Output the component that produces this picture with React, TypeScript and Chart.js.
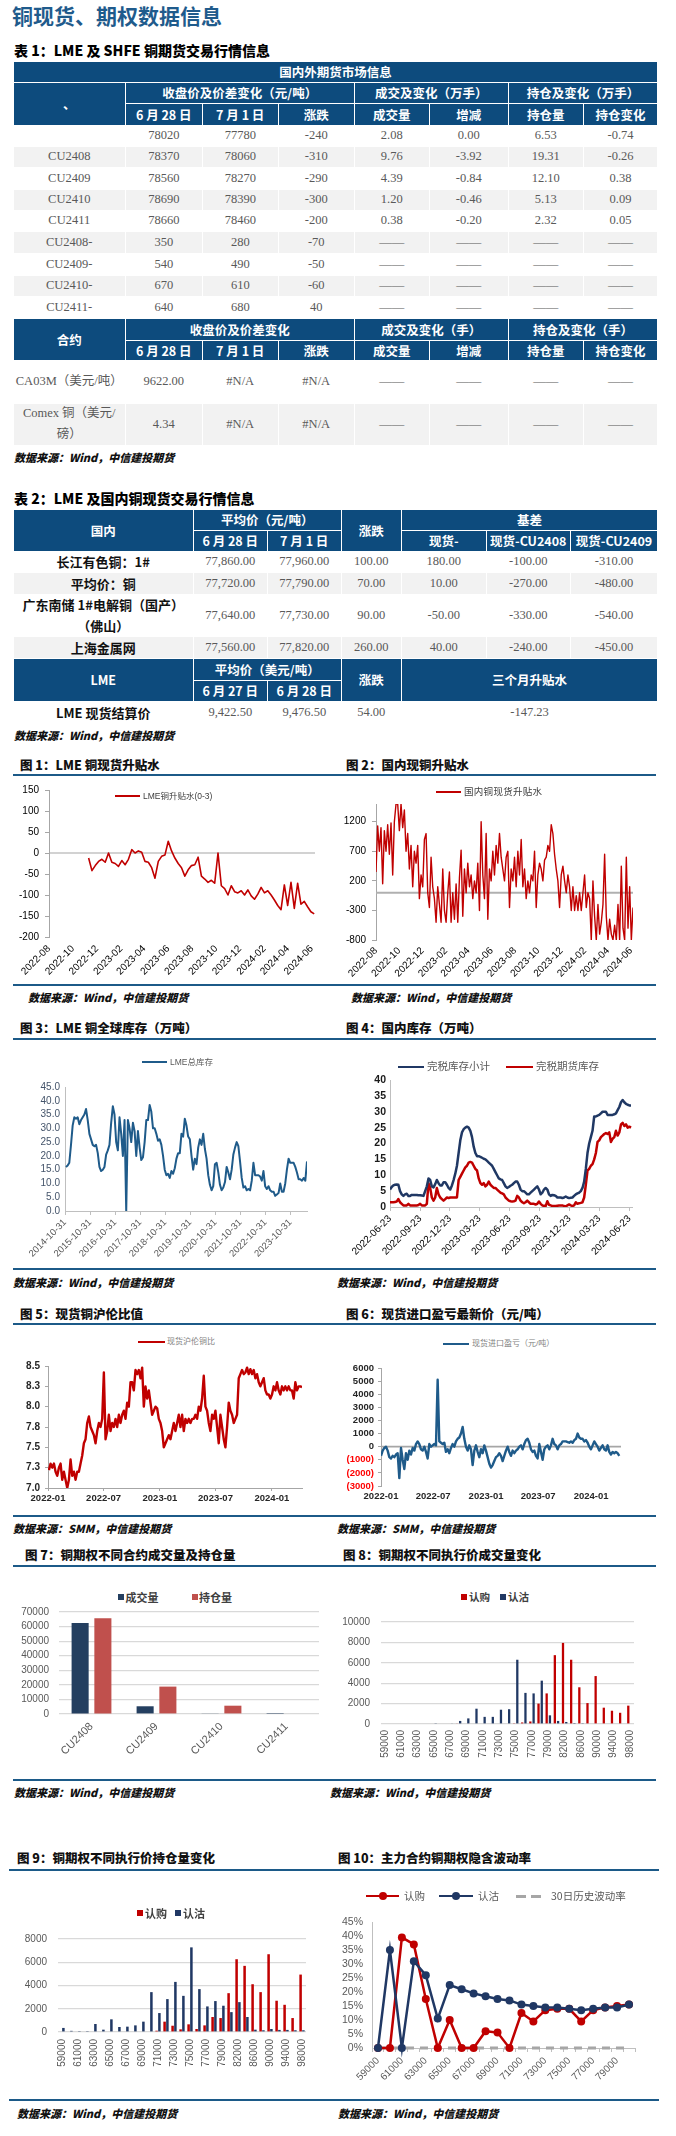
import React, { useEffect, useRef } from 'react';
import { Chart, registerables } from 'chart.js';

Chart.register(...registerables);

const RED = '#c00000';
const NAVY = '#203864';
const STEEL = '#1f5b8a';
const RULE = '#1c5a88';
const HEAD = '#0d4b7d';
const STRIPE = '#f2f2f2';
const CJK = "'Noto Sans CJK SC', 'Noto Sans', sans-serif";
const SERIF = "'Liberation Serif', 'Noto Sans CJK SC', serif";
const SANS = "'Liberation Sans', 'Noto Sans CJK SC', sans-serif";
Chart.defaults.font.family = SANS;

// ---------------- Table 1 ----------------
const T1_TOP = '国内外期货市场信息';
const T1_GROUP = ['收盘价及价差变化（元/吨）', '成交及变化（万手）', '持仓及变化（万手）'];
const T1_SUB = ['6 月 28 日', '7 月 1 日', '涨跌', '成交量', '增减', '持仓量', '持仓变化'];
const T1_ROWS = [
  ['', '78020', '77780', '-240', '2.08', '0.00', '6.53', '-0.74'],
  ['CU2408', '78370', '78060', '-310', '9.76', '-3.92', '19.31', '-0.26'],
  ['CU2409', '78560', '78270', '-290', '4.39', '-0.84', '12.10', '0.38'],
  ['CU2410', '78690', '78390', '-300', '1.20', '-0.46', '5.13', '0.09'],
  ['CU2411', '78660', '78460', '-200', '0.38', '-0.20', '2.32', '0.05'],
  ['CU2408-', '350', '280', '-70', '——', '——', '——', '——'],
  ['CU2409-', '540', '490', '-50', '——', '——', '——', '——'],
  ['CU2410-', '670', '610', '-60', '——', '——', '——', '——'],
  ['CU2411-', '640', '680', '40', '——', '——', '——', '——'],
];
const T1_GROUP2 = ['收盘价及价差变化', '成交及变化（手）', '持仓及变化（手）'];
const T1_ROWS2 = [
  ['CA03M（美元/吨）', '9622.00', '#N/A', '#N/A', '——', '——', '——', '——'],
  ['Comex 铜（美元/\n磅）', '4.34', '#N/A', '#N/A', '——', '——', '——', '——'],
];

// ---------------- Table 2 ----------------
const T2_HEAD = ['国内', '平均价（元/吨）', '涨跌', '基差'];
const T2_SUB = ['6 月 28 日', '7 月 1 日', '现货-', '现货-CU2408', '现货-CU2409'];
const T2_ROWS = [
  ['长江有色铜：1#', '77,860.00', '77,960.00', '100.00', '180.00', '-100.00', '-310.00'],
  ['平均价：铜', '77,720.00', '77,790.00', '70.00', '10.00', '-270.00', '-480.00'],
  ['广东南储 1#电解铜（国产）\n（佛山）', '77,640.00', '77,730.00', '90.00', '-50.00', '-330.00', '-540.00'],
  ['上海金属网', '77,560.00', '77,820.00', '260.00', '40.00', '-240.00', '-450.00'],
];
const T2_HEAD2 = ['LME', '平均价（美元/吨）', '涨跌', '三个月升贴水'];
const T2_SUB2 = ['6 月 27 日', '6 月 28 日'];
const T2_ROWS2 = [['LME 现货结算价', '9,422.50', '9,476.50', '54.00', '-147.23']];

const SRC_WIND = '数据来源：Wind，中信建投期货';
const SRC_SMM = '数据来源：SMM，中信建投期货';

// ---------------- Chart 1: LME 铜升贴水(0-3) ----------------
const C1_START = '2022-11-10';
const C1_END = '2024-06-07';
const C1_VALUES = [-12, -42, -30, -20, -15, -22, 0, -22, -25, -32, -18, -28, -15, 8, 0, 5, 2, -20, -22, -35, -60, -20, -8, -5, 28, 5, -12, -25, -35, -55, -40, -30, -28, -10, -55, -62, -70, -65, -72, 0, -78, -85, -100, -78, -92, -95, -90, -100, -88, -102, -110, -98, -82, -95, -90, -100, -112, -125, -135, -76, -125, -70, -132, -72, -122, -115, -128, -140, -145];
const C1_XTICKS = ['2022-08', '2022-10', '2022-12', '2023-02', '2023-04', '2023-06', '2023-08', '2023-10', '2023-12', '2024-02', '2024-04', '2024-06'];
const C1_YTICKS = [-200, -150, -100, -50, 0, 50, 100, 150];

// ---------------- Chart 2: 国内铜现货升贴水 ----------------
const C2_START = '2022-08-01';
const C2_END = '2024-06-06';
const C2_VALUES = [
  350, 1130, 700, 1100, 150, 1050, 700, 1150, 650, 1180,
  300, 1200, 1500, 1500, 1050, 1500, 1100, 1400, 700, 1000,
  400, 800, 100, 700, 500, 800, -100, 300, 100, 900,
  1000, 0, -250, 600, 100, -100, -500, 100, -200, -500,
  400, -300, -500, 0, 350, -500, 0, -450, 150, -500,
  250, 720, -400, 400, 0, 500, 100, 300, -100, 200,
  0, 500, -300, 1200, 300, -100, 1000, -450, 400, 200,
  700, 300, 800, 500, 1000, 600, 400, 200, 600, 700,
  -250, 400, 200, 600, 100, 700, 300, 900, 100, 400,
  -100, 200, 0, 300, 200, 700, -250, 300, 500, 400,
  200, 550, 600, 800, 700, 1150, 1000, 650, 400, 200,
  -250, 300, 450, 200, 0, 300, 100, -300, 100, -300,
  -50, -300, 0, -300, 0, 300, -250, 0, -100, -800,
  200, -400, -800, -200, -700, -500, -200, 650, -400, -800,
  -450, -700, -800, -550, -800, -200, -800, 450, -600, -800,
  600, -600, 100, -800, -250,
];
const C2_YTICKS = [-800, -300, 200, 700, 1200];

// ---------------- Chart 3: LME总库存 ----------------
const C3_START = '2014-11-14';
const C3_END = '2024-06-28';
const C3_VALUES = [
  16, 16.5, 17.5, 24, 31, 34, 33.5, 34, 31.5, 33,
  34, 35, 37, 33, 28, 26, 24, 23.5, 24, 21,
  16, 14.5, 15, 16, 20.5, 22, 24, 32, 38, 35,
  25, 22, 34, 28, 20, 33, 0, 33, 30, 25,
  32, 29, 20, 29, 23, 18.5, 19.5, 25, 33, 33,
  38.5, 36, 30, 30, 28, 25.5, 26, 24, 20, 15,
  13, 13.5, 12, 14.5, 13.5, 15.5, 19, 21, 21, 28,
  27, 33.5, 31, 27, 26, 20, 15, 19, 17, 23,
  26, 24, 28, 22.5, 19, 13, 9.5, 7.5, 9, 17,
  17.5, 14, 9.5, 7.5, 8.5, 10.5, 16, 14, 11.5, 15,
  20.5, 23, 25, 23.5, 18, 12, 8.5, 9, 7.5, 8,
  7.5, 11, 17.5, 13, 13, 13, 12.5, 11, 14.5, 9,
  8, 9, 7.5, 7, 7, 5.5, 6, 6.5, 10, 7,
  7, 10, 15, 19, 17.5, 17.5, 17.5, 16, 14, 11.5,
  11.5, 11, 12, 11, 18,
];
const C3_XTICKS = ['2014-10-31', '2015-10-31', '2016-10-31', '2017-10-31', '2018-10-31', '2019-10-31', '2020-10-31', '2021-10-31', '2022-10-31', '2023-10-31'];
const C3_YTICKS = [0, 5, 10, 15, 20, 25, 30, 35, 40, 45];

// ---------------- Chart 4: 国内库存 ----------------
const C4_START = '2022-06-23';
const C4_END = '2024-06-28';
const C4_TOTAL = [
  5.5, 6.3, 6.8, 7, 7.1, 7, 5, 4, 3.5, 4,
  4.2, 3.5, 3.5, 3.8, 3.8, 3.8, 3.8, 3.7, 3.7, 3.6,
  3.5, 5, 6.5, 9, 8.5, 6.5, 6.2, 7.2, 8.5, 7.5,
  6.8, 6.8, 7.8, 7.8, 7, 6, 5.5, 6.8, 8.5, 10.5,
  13, 17, 21, 23.5, 24.5, 25, 25.3, 25, 24, 22,
  19, 17, 16, 16, 15.8, 15.5, 15.2, 15, 14.5, 14,
  13.5, 13, 12, 11, 10, 9, 8.7, 8.5, 7.5, 6.5,
  6, 6.3, 6.7, 7, 7.5, 8, 8, 7, 5.5, 5,
  5, 4.5, 4, 4, 4.5, 5, 5.5, 6, 6.5, 5.5,
  4, 4.5, 5.5, 6, 5.5, 4, 3.5, 3.8, 3.7, 3.5,
  3, 3, 3, 2.8, 3, 3.3, 3, 2.8, 2.9, 3,
  3.5, 4, 4.3, 4.5, 5, 6, 8, 12, 17, 20,
  22, 24, 28.5, 28.5, 28.8, 29, 29.5, 30, 30, 30,
  29, 29, 29, 29, 29.2, 29.5, 30.5, 31.5, 33, 33.7,
  33, 32.5, 32.2, 32, 32,
];
const C4_FUTURES = [
  1.5, 1.5, 1.5, 1.6, 1.7, 2.5, 1.5, 1, 0.5, 0.5,
  0.5, 1, 0.5, 0.5, 0.5, 0.5, 0.5, 0.6, 1, 0.5,
  0.5, 0.5, 1, 7.5, 6, 3, 2, 3, 6, 4,
  3, 2.5, 2, 2.5, 3, 2.8, 3, 3, 3, 3,
  3, 8.5, 9.5, 10.5, 11.5, 12.5, 13, 14, 14.2, 14,
  13, 12, 11.5, 9, 7.5, 7, 7.5, 6.5, 7, 8,
  7, 6.5, 6, 6, 5.5, 5, 4.5, 4.3, 4, 3,
  2.5, 2, 1.8, 1.7, 1.8, 2, 3.5, 3, 2, 1.5,
  1.2, 1.5, 2, 1.5, 1, 1, 1, 0.8, 1, 1.7,
  1, 0.5, 0.4, 0.3, 1.8, 0.7, 0.5, 0.3, 0.3, 0.3,
  0.4, 0.5, 0.5, 0.5, 0.3, 0.2, 0.5, 0.8, 0.5, 0.3,
  0.5, 1.5, 1, 1.2, 1.3, 1.5, 3, 7, 11.5, 12,
  13, 13.5, 15, 17, 20.5, 21, 22, 22.5, 23, 23.3,
  23, 23.5, 20.5, 21.5, 22, 24, 22.5, 23.5, 26, 26.5,
  25.5, 26, 25, 25.3, 25,
];
const C4_XTICKS = ['2022-06-23', '2022-09-23', '2022-12-23', '2023-03-23', '2023-06-23', '2023-09-23', '2023-12-23', '2024-03-23', '2024-06-23'];
const C4_YTICKS = [0, 5, 10, 15, 20, 25, 30, 35, 40];

// ---------------- Chart 5: 现货沪伦铜比 ----------------
const C5_START = '2022-01-04';
const C5_END = '2024-04-08';
const C5_VALUES = [
  7.22, 7.3, 7.25, 7.3, 7.2, 7.15, 7.25, 7.3, 7.1, 7.2,
  7.1, 7.0, 7.1, 7.35, 7.15, 7.2, 7.1, 7.2, 7.2, 7.3,
  7.4, 7.55, 7.6, 7.8, 7.88, 7.75, 7.7, 7.65, 7.55, 7.7,
  7.8, 7.75, 7.85, 8.42, 7.6, 7.7, 7.9, 7.7, 7.8, 7.75,
  7.85, 7.75, 7.9, 7.8, 7.9, 7.95, 7.85, 8.05, 8.0, 8.3,
  8.3, 8.2, 8.45, 8.4, 8.45, 8.35, 8.48, 8.0, 8.25, 8.1,
  8.2, 8.05, 7.9, 7.95, 8.0, 7.98, 7.85, 7.8, 7.7, 7.5,
  7.55, 7.6, 7.65, 7.6, 7.7, 7.8, 7.7, 7.8, 7.9, 7.75,
  7.9, 7.7, 7.85, 7.8, 7.85, 7.8, 7.85, 7.85, 7.9, 7.85,
  8.0, 7.95, 8.1, 8.38, 8.0, 7.95, 7.8, 7.7, 7.9, 7.85,
  7.95, 7.75, 7.55, 7.9, 7.75, 7.6, 7.5, 7.75, 8.05, 7.95,
  7.9, 7.8, 7.85, 7.9, 8.35, 8.4, 8.45, 8.4, 8.42, 8.48,
  8.4, 8.46, 8.4, 8.45, 8.35, 8.4, 8.3, 8.25, 8.3, 8.35,
  8.2, 8.15, 8.15, 8.1, 8.15, 8.25, 8.2, 8.3, 8.2, 8.15,
  8.25, 8.2, 8.25, 8.2, 8.25, 8.2, 8.2, 8.1, 8.3, 8.2,
  8.25, 8.25, 8.24,
];
const C5_XTICKS = ['2022-01', '2022-07', '2023-01', '2023-07', '2024-01'];
const C5_YTICKS = [7, 7.25, 7.5, 7.75, 8, 8.25, 8.5];

// ---------------- Chart 6: 现货进口盈亏 ----------------
const C6_START = '2022-01-01';
const C6_END = '2024-04-08';
const C6_VALUES = [
  -700, -300, -100, 0, -300, -800, -900, -700, -800, -600,
  -500, -2400, -100, -1000, -1700, -500, -1000, -300, -600, -100,
  -300, 200, 400, 200, -200, -300, 0, -400, -900, 200,
  0, 100, 200, 100, 5100, 400, 300, 200, 300, -400,
  -200, -500, -100, 200, 0, 400, 600, 700, 1000, 1500,
  600, 0, -300, 100, -200, -1400, -300, 100, -400, -800,
  -200, -500, 100, -300, -800, -1300, -1600, -1400, -1100, -800,
  -700, -500, -700, -1100, -700, -300, 0, -400, -700, -300,
  -500, -300, -200, 0, 100, -200, 200, 500, 600, 300,
  -200, -400, -300, -700, -900, 200, -400, -1000, -200, 0,
  100, -200, 100, 600, 200, 100, -200, 100, 200, 400,
  400, 400, 350, 300, 400, 300, 500, 600, 1000, 700,
  600, 600, 400, 500, 300, 0, -200, 100, 400, 200,
  0, -300, -100, 100, -200, -300, 100, -400, -600, -400,
  -500, -400, -500, -700,
];
const C6_XTICKS = ['2022-01', '2022-07', '2023-01', '2023-07', '2024-01'];
const C6_YTICKS = [-3000, -2000, -1000, 0, 1000, 2000, 3000, 4000, 5000, 6000];

// ---------------- Chart 7: 不同合约成交量及持仓量 ----------------
const C7_CONTRACTS = ['CU2408', 'CU2409', 'CU2410', 'CU2411'];
const C7_VOLUME = [62500, 5300, 500, 100];
const C7_OPEN_INT = [65700, 18800, 5700, 400];
const C7_YTICKS = [0, 10000, 20000, 30000, 40000, 50000, 60000, 70000];

// ---------------- Chart 8 / 9: strikes ----------------
const STRIKES = [59000, 60000, 61000, 62000, 63000, 64000, 65000, 66000, 67000, 68000, 69000, 70000, 71000, 72000, 73000, 74000, 75000, 76000, 77000, 78000, 79000, 80000, 82000, 84000, 86000, 88000, 90000, 92000, 94000, 96000, 98000];
const C8_CALL = [0, 0, 0, 0, 0, 0, 0, 0, 0, 50, 0, 0, 0, 0, 0, 0, 80, 150, 250, 2000, 3000, 6750, 7950, 6300, 3600, 2050, 4700, 1600, 1300, 1100, 1800];
const C8_PUT = [0, 0, 0, 0, 0, 0, 80, 0, 50, 300, 550, 1500, 700, 700, 1400, 1450, 6300, 3050, 3000, 4250, 850, 300, 200, 100, 30, 0, 0, 0, 0, 0, 0];
const C8_YTICKS = [0, 2000, 4000, 6000, 8000, 10000];
const C9_CALL = [0, 0, 0, 0, 0, 0, 0, 0, 0, 0, 0, 0, 110, 890, 540, 230, 660, 260, 570, 1290, 1200, 3340, 6260, 5690, 4110, 3430, 6690, 2690, 2340, 1200, 4940];
const C9_PUT = [350, 100, 80, 80, 690, 200, 1090, 430, 460, 570, 890, 3430, 1630, 2830, 4310, 3110, 7280, 3690, 2200, 2660, 2260, 1710, 2570, 1290, 200, 150, 260, 180, 180, 150, 150];
const C9_YTICKS = [0, 2000, 4000, 6000, 8000];

// ---------------- Chart 10: 隐含波动率 ----------------
const C10_STRIKES = [59000, 60000, 61000, 62000, 63000, 64000, 65000, 66000, 67000, 68000, 69000, 70000, 71000, 72000, 73000, 74000, 75000, 76000, 77000, 78000, 79000, 80000];
const C10_CALL = [0, 0, 39.5, 37, 17.5, 0, 10, 0, 0, 6, 5.5, 0, 12.5, 9.5, 13.5, 14, 14, 9.5, 13.5, 14.5, 15, 15.5];
const C10_PUT = [0, 35, 0, 31, 26, 10.5, 22.5, 21, 19.5, 18.5, 17.5, 17, 15.5, 15, 14.5, 14.5, 14, 13.5, 14, 14.5, 14.5, 15.5];
const C10_HV = [0, 0, 0, 0, 0, 0, 0, 0, 0, 0, 0, 0, 0, 0, 0, 0, 0, 0, 0, 0, 0, 0];
const C10_YTICKS = [0, 5, 10, 15, 20, 25, 30, 35, 40, 45];

// ================= helpers =================
const day = (s: string): number => {
  const [y, m, d] = s.split('-').map(Number);
  return Date.UTC(y, m - 1, d || 1) / 86400000;
};
const spread = (start: string, end: string, vals: number[]) => {
  const a = day(start), b = day(end), n = vals.length - 1;
  return vals.map((v, i) => ({ x: a + ((b - a) * i) / n, y: v }));
};

const refLinePlugin = {
  id: 'refLine',
  beforeDatasetsDraw(chart: any, _args: any, opts: any) {
    if (!opts || opts.value === undefined || opts.value === null) return;
    const y = chart.scales.y.getPixelForValue(opts.value);
    const { left, right } = chart.chartArea;
    const ctx = chart.ctx;
    ctx.save();
    ctx.strokeStyle = opts.color;
    ctx.lineWidth = opts.width;
    ctx.beginPath();
    ctx.moveTo(left, y);
    ctx.lineTo(right, y);
    ctx.stroke();
    ctx.restore();
  },
};
Chart.register(refLinePlugin as any);

type Box = { x: number; y: number; w: number; h: number };
type Plot = { l: number; t: number; r: number; b: number };

function frameOpts(c: Box, p: Plot) {
  return {
    responsive: false,
    maintainAspectRatio: false,
    animation: false,
    events: [],
    layout: { autoPadding: false, padding: { left: 0, bottom: 0, top: p.t - c.y, right: c.x + c.w - p.r } },
  };
}
const yFit = (c: Box, p: Plot) => (s: any) => { s.width = p.l - c.x; s.paddingTop = 0; s.paddingBottom = 0; };
const xFit = (c: Box, p: Plot) => (s: any) => { s.height = c.y + c.h - p.b; s.paddingLeft = 0; s.paddingRight = 0; };

type Ax = { min: number; max: number; ticks: number[]; labels: string[]; rot?: number; font: any; color: any; pad: number; tick: number; line: string | null };

function linAxis(A: Ax, fit: any) {
  return {
    type: 'linear',
    min: A.min,
    max: A.max,
    afterBuildTicks: (s: any) => { s.ticks = A.ticks.map((v) => ({ value: v })); },
    afterFit: fit,
    ticks: { autoSkip: false, maxRotation: A.rot || 0, minRotation: A.rot || 0, padding: A.pad, color: A.color, font: A.font, callback: (_v: any, i: number) => A.labels[i] },
    grid: { display: A.tick > 0, drawOnChartArea: false, drawTicks: A.tick > 0, tickLength: A.tick, color: A.line || '#a6a6a6', tickColor: A.line || '#a6a6a6' },
    border: { display: !!A.line, color: A.line || '#a6a6a6', width: 1 },
  };
}

function timeConfig(c: Box, p: Plot, datasets: any[], X: Ax, Y: Ax, ref?: any) {
  return {
    type: 'line',
    data: { datasets },
    options: {
      ...frameOpts(c, p),
      plugins: { legend: { display: false }, tooltip: { enabled: false }, refLine: ref || {} },
      scales: { x: linAxis(X, xFit(c, p)), y: linAxis(Y, yFit(c, p)) },
    },
  };
}

const lineDs = (data: any[], color: string, width: number) => ({
  data, borderColor: color, backgroundColor: color, borderWidth: width, pointRadius: 0, tension: 0, fill: false, borderJoinStyle: 'round',
});

function barConfig(c: Box, p: Plot, labels: string[], datasets: any[], yTicks: number[], o: { yFont: any; yPad: number; xRot: number; xEvery: number; xFont: any; xPad: number }) {
  return {
    type: 'bar',
    data: { labels, datasets },
    options: {
      ...frameOpts(c, p),
      plugins: { legend: { display: false }, tooltip: { enabled: false } },
      scales: {
        x: {
          type: 'category',
          afterFit: xFit(c, p),
          grid: { display: false, drawTicks: false },
          border: { display: false },
          ticks: { autoSkip: false, maxRotation: o.xRot, minRotation: o.xRot, padding: o.xPad, color: '#595959', font: o.xFont, callback: (_v: any, i: number) => (i % o.xEvery === 0 ? labels[i] : '') },
        },
        y: {
          type: 'linear',
          min: yTicks[0],
          max: yTicks[yTicks.length - 1],
          afterBuildTicks: (s: any) => { s.ticks = yTicks.map((v) => ({ value: v })); },
          afterFit: yFit(c, p),
          grid: { color: '#d9d9d9', lineWidth: 1.2, drawTicks: false },
          border: { display: false },
          ticks: { autoSkip: false, padding: o.yPad, color: '#595959', font: o.yFont, callback: (v: any) => String(v) },
        },
      },
    },
  };
}

// ================= chart configs =================
const F = (size: number, weight: any = 'normal') => ({ family: SANS, size, weight });

const B1: Box = { x: 13, y: 780, w: 325, h: 200 };
const P1: Plot = { l: 49, t: 790, r: 315, b: 937 };
const cfg1 = () => timeConfig(B1, P1, [lineDs(spread(C1_START, C1_END, C1_VALUES), RED, 1.6)],
  { min: day('2022-08-01'), max: day('2024-06-09'), ticks: C1_XTICKS.map((t) => day(t + '-01')), labels: C1_XTICKS, rot: 45, font: F(10), color: '#000', pad: 6, tick: 0, line: null },
  { min: -200, max: 150, ticks: C1_YTICKS, labels: C1_YTICKS.map(String), font: F(10), color: '#000', pad: 6, tick: 4, line: '#a6a6a6' },
  { value: 0, color: '#a6a6a6', width: 1.2 });

const B2: Box = { x: 338, y: 780, w: 318, h: 200 };
const P2: Plot = { l: 376, t: 804, r: 633, b: 940 };
const cfg2 = () => timeConfig(B2, P2, [lineDs(spread(C2_START, C2_END, C2_VALUES), RED, 1.4)],
  { min: day('2022-08-01'), max: day('2024-06-06'), ticks: C1_XTICKS.map((t) => day(t + '-01')), labels: C1_XTICKS, rot: 45, font: F(10), color: '#000', pad: 5, tick: 0, line: null },
  { min: -800, max: 1500, ticks: C2_YTICKS, labels: C2_YTICKS.map(String), font: F(10), color: '#000', pad: 6, tick: 4, line: '#a6a6a6' },
  { value: 0, color: '#b0b0b0', width: 2 });

const B3: Box = { x: 13, y: 1072, w: 325, h: 190 };
const P3: Plot = { l: 65, t: 1087, r: 307, b: 1211 };
const cfg3 = () => timeConfig(B3, P3, [lineDs(spread(C3_START, C3_END, C3_VALUES), STEEL, 2)],
  { min: day('2014-10-31'), max: day('2024-06-28'), ticks: C3_XTICKS.map(day), labels: C3_XTICKS, rot: 45, font: F(9.5), color: '#595959', pad: 2, tick: 4, line: '#bfbfbf' },
  { min: 0, max: 45, ticks: C3_YTICKS, labels: C3_YTICKS.map((v) => v.toFixed(1)), font: F(10), color: '#44546a', pad: 5, tick: 0, line: '#bfbfbf' });

const B4: Box = { x: 338, y: 1072, w: 318, h: 190 };
const P4: Plot = { l: 390, t: 1080, r: 632, b: 1207 };
const cfg4 = () => timeConfig(B4, P4, [
  lineDs(spread(C4_START, C4_END, C4_TOTAL), NAVY, 2.5),
  lineDs(spread(C4_START, C4_END, C4_FUTURES), RED, 2.5),
],
  { min: day('2022-06-23'), max: day('2024-07-01'), ticks: C4_XTICKS.map(day), labels: C4_XTICKS, rot: 45, font: F(10), color: '#000', pad: 2, tick: 4, line: '#bfbfbf' },
  { min: 0, max: 40, ticks: C4_YTICKS, labels: C4_YTICKS.map(String), font: F(10.5, 'bold'), color: '#1a1a1a', pad: 4, tick: 0, line: '#bfbfbf' });

const B5: Box = { x: 13, y: 1352, w: 325, h: 160 };
const P5: Plot = { l: 48, t: 1366, r: 302, b: 1488 };
const cfg5 = () => timeConfig(B5, P5, [lineDs(spread(C5_START, C5_END, C5_VALUES), RED, 2.4)],
  { min: day('2022-01-01'), max: day('2024-04-08'), ticks: C5_XTICKS.map((t) => day(t + '-01')), labels: C5_XTICKS, rot: 0, font: F(9.5, 'bold'), color: '#262626', pad: 2, tick: 3, line: '#a6a6a6' },
  { min: 7, max: 8.5, ticks: C5_YTICKS, labels: C5_YTICKS.map((v) => v.toFixed(1)), font: F(10, 'bold'), color: '#262626', pad: 5, tick: 3, line: '#a6a6a6' });

const B6: Box = { x: 338, y: 1352, w: 318, h: 160 };
const P6: Plot = { l: 381, t: 1368, r: 621, b: 1486 };
const cfg6 = () => {
  const cfg: any = timeConfig(B6, P6, [lineDs(spread(C6_START, C6_END, C6_VALUES), STEEL, 2.4)],
    { min: day('2022-01-01'), max: day('2024-04-14'), ticks: C6_XTICKS.map((t) => day(t + '-01')), labels: C6_XTICKS, rot: 0, font: F(9.5, 'bold'), color: '#262626', pad: 5, tick: 0, line: null },
    { min: -3000, max: 6000, ticks: C6_YTICKS, labels: C6_YTICKS.map((v) => (v < 0 ? `(${Math.abs(v)})` : String(v))), font: F(9.5, 'bold'), color: '#262626', pad: 4, tick: 3, line: '#a6a6a6' },
    { value: 0, color: '#a6a6a6', width: 1.8 });
  cfg.options.scales.y.ticks.color = (ctx: any) => (ctx.tick && ctx.tick.value < 0 ? '#ff0000' : '#262626');
  return cfg;
};

const B7: Box = { x: 13, y: 1605, w: 323, h: 173 };
const P7: Plot = { l: 59, t: 1612, r: 319, b: 1714 };
const cfg7 = () => barConfig(B7, P7, C7_CONTRACTS, [
  { data: C7_VOLUME, backgroundColor: '#243f60', categoryPercentage: 0.7, barPercentage: 0.75 },
  { data: C7_OPEN_INT, backgroundColor: '#c0504d', categoryPercentage: 0.7, barPercentage: 0.75 },
], C7_YTICKS, { yFont: F(10), yPad: 10, xRot: 45, xEvery: 1, xFont: F(11), xPad: 6 });

const B8: Box = { x: 338, y: 1605, w: 318, h: 173 };
const P8: Plot = { l: 381, t: 1622, r: 634, b: 1724 };
const cfg8 = () => barConfig(B8, P8, STRIKES.map(String), [
  { data: C8_CALL, backgroundColor: RED, categoryPercentage: 0.8, barPercentage: 0.7 },
  { data: C8_PUT, backgroundColor: NAVY, categoryPercentage: 0.8, barPercentage: 0.7 },
], C8_YTICKS, { yFont: F(10), yPad: 11, xRot: 90, xEvery: 2, xFont: F(10), xPad: 6 });

const B9: Box = { x: 10, y: 1925, w: 326, h: 172 };
const P9: Plot = { l: 58, t: 1939, r: 306, b: 2032 };
const cfg9 = () => barConfig(B9, P9, STRIKES.map(String), [
  { data: C9_CALL, backgroundColor: RED, categoryPercentage: 0.7, barPercentage: 0.9 },
  { data: C9_PUT, backgroundColor: NAVY, categoryPercentage: 0.7, barPercentage: 0.9 },
], C9_YTICKS, { yFont: F(10), yPad: 11, xRot: 90, xEvery: 2, xFont: F(10), xPad: 7 });

const B10: Box = { x: 338, y: 1912, w: 321, h: 185 };
const P10: Plot = { l: 372, t: 1922, r: 635, b: 2048 };
const cfg10 = () => {
  const labels = C10_STRIKES.map(String);
  const mk = (data: number[], color: string, order: number) => ({
    data, borderColor: color, backgroundColor: color, borderWidth: 2.5, pointRadius: 4, pointBorderWidth: 0,
    pointBackgroundColor: color, tension: 0, fill: false, order, clip: false,
  });
  return {
    type: 'line',
    data: {
      labels,
      datasets: [
        mk(C10_CALL, RED, 1),
        mk(C10_PUT, NAVY, 0),
        { data: C10_HV, borderColor: '#a6a6a6', borderWidth: 3, borderDash: [8, 6], pointRadius: 0, fill: false, order: 2, clip: false },
      ],
    },
    options: {
      ...frameOpts(B10, P10),
      plugins: { legend: { display: false }, tooltip: { enabled: false } },
      scales: {
        x: {
          type: 'category', offset: true, afterFit: xFit(B10, P10),
          grid: { display: true, drawOnChartArea: false, offset: true, drawTicks: true, tickLength: 4, color: '#bfbfbf', tickColor: '#bfbfbf' },
          border: { display: true, color: '#bfbfbf', width: 1 },
          ticks: { autoSkip: false, maxRotation: 45, minRotation: 45, padding: 3, color: '#595959', font: F(10), callback: (_v: any, i: number) => (i % 2 === 0 ? labels[i] : '') },
        },
        y: {
          type: 'linear', min: 0, max: 45, afterFit: yFit(B10, P10),
          afterBuildTicks: (s: any) => { s.ticks = C10_YTICKS.map((v) => ({ value: v })); },
          grid: { display: false, drawTicks: false },
          border: { display: true, color: '#bfbfbf', width: 1 },
          ticks: { autoSkip: false, padding: 9, color: '#595959', font: F(10.5), callback: (v: any) => `${v}%` },
        },
      },
    },
  };
};

// ================= React components =================
function ChartBox({ box, build }: { box: Box; build: () => any }) {
  const ref = useRef<HTMLCanvasElement | null>(null);
  useEffect(() => {
    if (!ref.current) return;
    const ch = new Chart(ref.current, build());
    return () => ch.destroy();
  }, []);
  return <canvas ref={ref} width={box.w} height={box.h} style={{ position: 'absolute', left: box.x, top: box.y, width: box.w, height: box.h }} />;
}

function Txt({ x, y, s, style = {}, children }: any) {
  return (
    <div style={{ position: 'absolute', left: x, top: y - s * 0.75, height: s * 1.5, lineHeight: `${s * 1.5}px`, fontSize: s, whiteSpace: 'nowrap', ...style }}>
      {children}
    </div>
  );
}

const Title = ({ x, y, children }: any) => (
  <Txt x={x} y={y} s={12.5} style={{ fontWeight: 900, color: '#111' }}>{children}</Txt>
);
const Source = ({ x, y, text }: any) => (
  <Txt x={x} y={y} s={11} style={{ fontWeight: 900, fontStyle: 'italic', color: '#111' }}>{text}</Txt>
);
const Rule = ({ x0, x1, y }: any) => (
  <div style={{ position: 'absolute', left: x0, top: y - 1, width: x1 - x0, height: 2.2, background: RULE }} />
);
const LegLine = ({ x0, x1, y, color, h = 2 }: any) => (
  <div style={{ position: 'absolute', left: x0, top: y - h / 2, width: x1 - x0, height: h, background: color }} />
);
const LegSq = ({ x, y, color, s = 6 }: any) => (
  <div style={{ position: 'absolute', left: x, top: y - s / 2, width: s, height: s, background: color }} />
);
const LegDot = ({ x, y, color }: any) => (
  <div style={{ position: 'absolute', left: x - 4, top: y - 4, width: 8, height: 8, borderRadius: 4, background: color }} />
);

type CellDef = { r: number; c: number; rs?: number; cs?: number; t: string; k: 'h' | 'd' | 'b' };

function Grid({ xs, ys, cells, rowBg }: { xs: number[]; ys: number[]; cells: CellDef[]; rowBg: Record<number, string> }) {
  const lastX = xs[xs.length - 1];
  return (
    <>
      {cells.map((cell, i) => {
        const x0 = xs[cell.c];
        const x1 = xs[cell.c + (cell.cs || 1)];
        const y0 = ys[cell.r];
        const y1 = ys[cell.r + (cell.rs || 1)];
        const head = cell.k === 'h';
        const bg = head ? HEAD : rowBg[cell.r] || '#fff';
        const style: any =
          cell.k === 'h'
            ? { color: '#fff', fontWeight: 700, fontSize: 12.5, fontFamily: CJK }
            : cell.k === 'b'
            ? { color: '#111', fontWeight: 700, fontSize: 13, fontFamily: CJK }
            : { color: '#595959', fontSize: 12.5, fontFamily: SERIF };
        return (
          <div
            key={i}
            style={{
              position: 'absolute', left: x0, top: y0,
              width: x1 - x0 - (x1 < lastX ? 1.5 : 0), height: y1 - y0 - 1.5,
              background: bg, display: 'flex', alignItems: 'center', justifyContent: 'center',
              textAlign: 'center', whiteSpace: 'pre-line', lineHeight: '21px', ...style,
            }}
          >
            {cell.t}
          </div>
        );
      })}
    </>
  );
}

function Table1() {
  const xs = [14, 126, 203, 279, 355, 430, 509, 584, 657];
  const ys = [62, 83, 104, 126, 147, 168, 190, 211, 232, 254, 276, 297, 319, 341, 361, 404, 446];
  const cells: CellDef[] = [
    { r: 0, c: 0, cs: 8, t: T1_TOP, k: 'h' },
    { r: 1, c: 0, rs: 2, t: '、', k: 'h' },
    { r: 1, c: 1, cs: 3, t: T1_GROUP[0], k: 'h' },
    { r: 1, c: 4, cs: 2, t: T1_GROUP[1], k: 'h' },
    { r: 1, c: 6, cs: 2, t: T1_GROUP[2], k: 'h' },
    ...T1_SUB.map((t, j) => ({ r: 2, c: j + 1, t, k: 'h' as const })),
    ...T1_ROWS.flatMap((row, i) => row.map((t, j) => ({ r: 3 + i, c: j, t, k: 'd' as const }))),
    { r: 12, c: 0, rs: 2, t: '合约', k: 'h' },
    { r: 12, c: 1, cs: 3, t: T1_GROUP2[0], k: 'h' },
    { r: 12, c: 4, cs: 2, t: T1_GROUP2[1], k: 'h' },
    { r: 12, c: 6, cs: 2, t: T1_GROUP2[2], k: 'h' },
    ...T1_SUB.map((t, j) => ({ r: 13, c: j + 1, t, k: 'h' as const })),
    ...T1_ROWS2.flatMap((row, i) => row.map((t, j) => ({ r: 14 + i, c: j, t, k: 'd' as const }))),
  ];
  const rowBg: Record<number, string> = { 4: STRIPE, 6: STRIPE, 8: STRIPE, 10: STRIPE, 15: STRIPE };
  return <Grid xs={xs} ys={ys} cells={cells} rowBg={rowBg} />;
}

function Table2() {
  const xs = [14, 194, 268, 342, 402, 487, 571, 657];
  const ys = [510, 531, 552, 573, 595, 637, 659, 681, 702, 725];
  const cells: CellDef[] = [
    { r: 0, c: 0, rs: 2, t: T2_HEAD[0], k: 'h' },
    { r: 0, c: 1, cs: 2, t: T2_HEAD[1], k: 'h' },
    { r: 0, c: 3, rs: 2, t: T2_HEAD[2], k: 'h' },
    { r: 0, c: 4, cs: 3, t: T2_HEAD[3], k: 'h' },
    { r: 1, c: 1, t: T2_SUB[0], k: 'h' },
    { r: 1, c: 2, t: T2_SUB[1], k: 'h' },
    { r: 1, c: 4, t: T2_SUB[2], k: 'h' },
    { r: 1, c: 5, t: T2_SUB[3], k: 'h' },
    { r: 1, c: 6, t: T2_SUB[4], k: 'h' },
    ...T2_ROWS.flatMap((row, i) => row.map((t, j) => ({ r: 2 + i, c: j, t, k: (j === 0 ? 'b' : 'd') as any }))),
    { r: 6, c: 0, rs: 2, t: T2_HEAD2[0], k: 'h' },
    { r: 6, c: 1, cs: 2, t: T2_HEAD2[1], k: 'h' },
    { r: 6, c: 3, rs: 2, t: T2_HEAD2[2], k: 'h' },
    { r: 6, c: 4, cs: 3, rs: 2, t: T2_HEAD2[3], k: 'h' },
    { r: 7, c: 1, t: T2_SUB2[0], k: 'h' },
    { r: 7, c: 2, t: T2_SUB2[1], k: 'h' },
    { r: 8, c: 0, t: T2_ROWS2[0][0], k: 'b' },
    { r: 8, c: 1, t: T2_ROWS2[0][1], k: 'd' },
    { r: 8, c: 2, t: T2_ROWS2[0][2], k: 'd' },
    { r: 8, c: 3, t: T2_ROWS2[0][3], k: 'd' },
    { r: 8, c: 4, cs: 3, t: T2_ROWS2[0][4], k: 'd' },
  ];
  const rowBg: Record<number, string> = { 3: STRIPE, 5: STRIPE };
  return <Grid xs={xs} ys={ys} cells={cells} rowBg={rowBg} />;
}

export default function App() {
  const legGrey = { color: '#404040', fontFamily: SANS };
  return (
    <div style={{ position: 'absolute', left: 0, top: 0, width: 676, height: 2136, background: '#fff', overflow: 'hidden', fontFamily: CJK, color: '#000' }}>
      <Txt x={12} y={16} s={21} style={{ color: '#1f5b8c', fontWeight: 700 }}>铜现货、期权数据信息</Txt>

      <Txt x={14} y={50} s={14} style={{ fontWeight: 900 }}>表 1：LME 及 SHFE 铜期货交易行情信息</Txt>
      <Table1 />
      <Source x={14} y={457} text={SRC_WIND} />

      <Txt x={14} y={498} s={14} style={{ fontWeight: 900 }}>表 2：LME 及国内铜现货交易行情信息</Txt>
      <Table2 />
      <Source x={14} y={735} text={SRC_WIND} />

      {/* Row 1: charts 1, 2 */}
      <Title x={20} y={765}>图 1：LME 铜现货升贴水</Title>
      <Title x={346} y={765}>图 2：国内现铜升贴水</Title>
      <Rule x0={13} x1={656} y={775} />
      <ChartBox box={B1} build={cfg1} />
      <ChartBox box={B2} build={cfg2} />
      <LegLine x0={115} x1={140} y={796} color={RED} />
      <Txt x={143} y={796} s={8.5} style={legGrey}>LME铜升贴水(0-3)</Txt>
      <LegLine x0={436} x1={461} y={792} color={RED} />
      <Txt x={464} y={792} s={9.5} style={{ color: '#404040', fontFamily: SERIF, letterSpacing: 0.3 }}>国内铜现货升贴水</Txt>
      <Rule x0={13} x1={656} y={985} />
      <Source x={28} y={997} text={SRC_WIND} />
      <Source x={351} y={997} text={SRC_WIND} />

      {/* Row 2: charts 3, 4 */}
      <Title x={20} y={1028}>图 3：LME 铜全球库存（万吨）</Title>
      <Title x={346} y={1028}>图 4：国内库存（万吨）</Title>
      <Rule x0={13} x1={656} y={1039} />
      <ChartBox box={B3} build={cfg3} />
      <ChartBox box={B4} build={cfg4} />
      <LegLine x0={142} x1={167} y={1062} color={STEEL} />
      <Txt x={170} y={1062} s={8.5} style={{ color: '#595959', fontFamily: SANS }}>LME总库存</Txt>
      <LegLine x0={398} x1={424} y={1067} color={NAVY} h={2.5} />
      <Txt x={427} y={1067} s={10.5} style={{ color: '#595959', fontFamily: SERIF }}>完税库存小计</Txt>
      <LegLine x0={506} x1={533} y={1067} color={RED} h={2.5} />
      <Txt x={536} y={1067} s={10.5} style={{ color: '#595959', fontFamily: SERIF }}>完税期货库存</Txt>
      <Rule x0={13} x1={656} y={1269} />
      <Source x={13} y={1282} text={SRC_WIND} />
      <Source x={337} y={1282} text={SRC_WIND} />

      {/* Row 3: charts 5, 6 */}
      <Title x={20} y={1314}>图 5：现货铜沪伦比值</Title>
      <Title x={346} y={1314}>图 6：现货进口盈亏最新价（元/吨）</Title>
      <Rule x0={13} x1={656} y={1324} />
      <ChartBox box={B5} build={cfg5} />
      <ChartBox box={B6} build={cfg6} />
      <LegLine x0={138} x1={165} y={1342} color={RED} h={2.5} />
      <Txt x={167} y={1342} s={8} style={{ color: '#7f7f7f', fontFamily: SANS }}>现货沪伦铜比</Txt>
      <LegLine x0={443} x1={469} y={1344} color={STEEL} h={2.5} />
      <Txt x={472} y={1344} s={8} style={{ color: '#7f7f7f', fontFamily: SANS }}>现货进口盈亏（元/吨）</Txt>
      <Rule x0={13} x1={656} y={1516} />
      <Source x={13} y={1528} text={SRC_SMM} />
      <Source x={337} y={1528} text={SRC_SMM} />

      {/* Row 4: charts 7, 8 */}
      <Title x={25} y={1555}>图 7：铜期权不同合约成交量及持仓量</Title>
      <Title x={343} y={1555}>图 8：铜期权不同执行价成交量变化</Title>
      <Rule x0={13} x1={656} y={1566} />
      <ChartBox box={B7} build={cfg7} />
      <ChartBox box={B8} build={cfg8} />
      <LegSq x={118} y={1597} color="#243f60" />
      <Txt x={125.5} y={1597} s={11} style={{ color: '#404040', fontWeight: 700 }}>成交量</Txt>
      <LegSq x={191.5} y={1597} color="#c0504d" />
      <Txt x={199} y={1597} s={11} style={{ color: '#404040', fontWeight: 700 }}>持仓量</Txt>
      <LegSq x={461} y={1597} color={RED} />
      <Txt x={469} y={1597} s={10.5} style={{ color: '#404040', fontWeight: 700 }}>认购</Txt>
      <LegSq x={500} y={1597} color={NAVY} />
      <Txt x={508} y={1597} s={10.5} style={{ color: '#404040', fontWeight: 700 }}>认沽</Txt>
      <Rule x0={13} x1={656} y={1780} />
      <Source x={14} y={1792} text={SRC_WIND} />
      <Source x={330} y={1792} text={SRC_WIND} />

      {/* Row 5: charts 9, 10 */}
      <Title x={17} y={1858}>图 9：铜期权不同执行价持仓量变化</Title>
      <Title x={338} y={1858}>图 10：主力合约铜期权隐含波动率</Title>
      <Rule x0={9} x1={659} y={1870} />
      <ChartBox box={B9} build={cfg9} />
      <ChartBox box={B10} build={cfg10} />
      <LegSq x={137} y={1913} color={RED} />
      <Txt x={145} y={1913} s={11} style={{ color: '#404040', fontWeight: 700 }}>认购</Txt>
      <LegSq x={175} y={1913} color={NAVY} />
      <Txt x={183} y={1913} s={11} style={{ color: '#404040', fontWeight: 700 }}>认沽</Txt>
      <LegLine x0={366} x1={399} y={1896} color={RED} h={2.5} />
      <LegDot x={383} y={1896} color={RED} />
      <Txt x={404} y={1896} s={10.5} style={{ color: '#595959' }}>认购</Txt>
      <LegLine x0={439} x1={473} y={1896} color={NAVY} h={2.5} />
      <LegDot x={456} y={1896} color={NAVY} />
      <Txt x={478} y={1896} s={10.5} style={{ color: '#595959' }}>认沽</Txt>
      <LegLine x0={516} x1={526} y={1896} color="#a6a6a6" h={3} />
      <LegLine x0={531} x1={541} y={1896} color="#a6a6a6" h={3} />
      <Txt x={551} y={1896} s={10.5} style={{ color: '#595959' }}>30日历史波动率</Txt>
      <Rule x0={9} x1={659} y={2100} />
      <Source x={17} y={2113} text={SRC_WIND} />
      <Source x={338} y={2113} text={SRC_WIND} />
    </div>
  );
}
